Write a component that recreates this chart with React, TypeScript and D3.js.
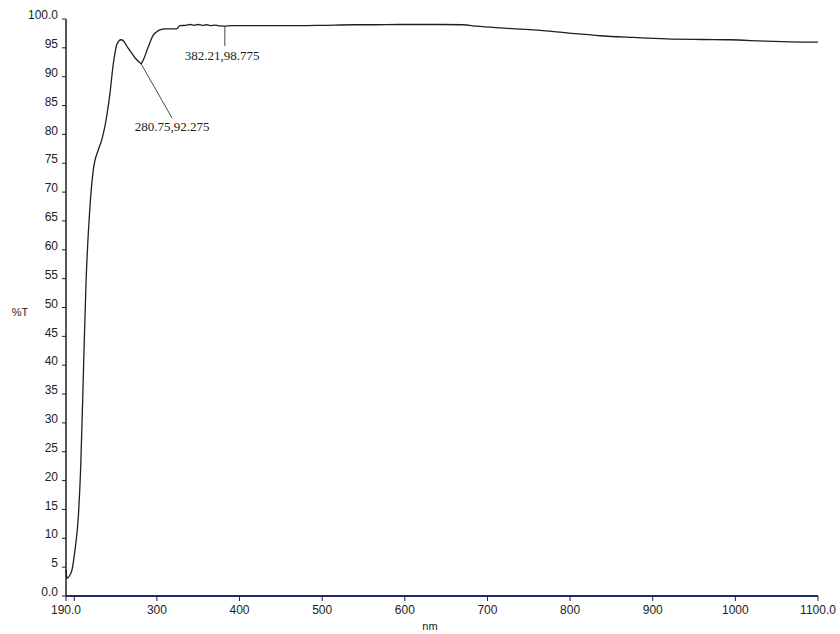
import React from "react";
import * as d3 from "d3";

const wavelengths = [190, 190.8, 191.6, 193, 196.9, 200.9, 204.9, 207.8, 210.2, 211.8, 214.2, 217, 219, 223, 229, 233.2, 239.2, 243.2, 247.2, 251.3, 254, 256.6, 259, 261.4, 265, 269.5, 274, 279.5, 280.75, 283.5, 289.6, 295.6, 300, 303.7, 310, 318, 324, 328, 335, 340, 345, 350, 355, 360, 365, 370, 375, 382.21, 390, 400, 430, 473, 500, 540, 560, 594, 630, 670, 687, 715, 755, 796, 836, 876, 917, 960, 993, 1038, 1082, 1100];
const transmittance = [4.5, 3.3, 3.1, 3.3, 4.3, 8.0, 13.7, 22.4, 34, 42.6, 54.2, 62.9, 67.5, 73.8, 77.3, 79, 83.1, 87.1, 92.2, 95.5, 96.2, 96.4, 96.3, 95.8, 95.0, 94.1, 93.2, 92.4, 92.275, 92.9, 95.2, 97.2, 97.8, 98.1, 98.3, 98.3, 98.3, 98.85, 98.9, 99.05, 98.9, 99.05, 98.9, 99.0, 98.85, 98.95, 98.8, 98.775, 98.85, 98.85, 98.85, 98.85, 98.9, 99.0, 99.0, 99.05, 99.05, 99.0, 98.75, 98.45, 98.1, 97.6, 97.1, 96.8, 96.55, 96.45, 96.4, 96.15, 96.0, 96.0];

const xTickValues = [190, 200, 300, 400, 500, 600, 700, 800, 900, 1000, 1100];
const xTickLabels = ["190.0", "", "300", "400", "500", "600", "700", "800", "900", "1000", "1100.0"];
const yTickValues = [0, 5, 10, 15, 20, 25, 30, 35, 40, 45, 50, 55, 60, 65, 70, 75, 80, 85, 90, 95, 100];
const yTickLabels = ["0.0", "5", "10", "15", "20", "25", "30", "35", "40", "45", "50", "55", "60", "65", "70", "75", "80", "85", "90", "95", "100.0"];

const annotations = [
  { nm: 280.75, t: 92.275, label: "280.75,92.275" },
  { nm: 382.21, t: 98.775, label: "382.21,98.775" },
];

const W = 840;
const H = 634;

export default function App() {
  const x = d3.scaleLinear().domain([190, 1100]).range([66, 818]);
  const y = d3.scaleLinear().domain([0, 100]).range([596, 19]);

  const pts = wavelengths.map((w, i) => [w, transmittance[i]] as [number, number]);
  const line = d3
    .line<[number, number]>()
    .x((d) => x(d[0]))
    .y((d) => y(d[1]))
    .curve(d3.curveMonotoneX);

  const sans = "Liberation Sans, Arial, sans-serif";
  const serif = "Liberation Serif, Times New Roman, serif";

  const a1 = annotations[0];
  const a2 = annotations[1];

  return (
    <svg
      width={W}
      height={H}
      style={{ position: "absolute", left: 0, top: 0, background: "#fff" }}
    >
      <line x1={66} x2={66} y1={y(100)} y2={y(0)} stroke="#2a1c22" strokeWidth={1.5} />
      <line x1={66} x2={818} y1={y(0)} y2={y(0)} stroke="#1f2a7a" strokeWidth={1.8} />

      {yTickValues.map((v, i) => (
        <g key={"y" + v}>
          <line x1={62} x2={66} y1={y(v)} y2={y(v)} stroke="#2a1c22" strokeWidth={1} />
          <text
            x={58}
            y={y(v) - 3}
            textAnchor="end"
            dominantBaseline="middle"
            fontFamily={sans}
            fontSize={12}
            fill="#222"
          >
            {yTickLabels[i]}
          </text>
        </g>
      ))}

      {xTickValues.map((v, i) => (
        <g key={"x" + v}>
          <line x1={x(v)} x2={x(v)} y1={y(0)} y2={y(0) + 5} stroke="#222" strokeWidth={1} />
          <text
            x={x(v)}
            y={y(0) + 15}
            textAnchor="middle"
            dominantBaseline="middle"
            fontFamily={sans}
            fontSize={12}
            fill="#222"
          >
            {xTickLabels[i]}
          </text>
        </g>
      ))}

      <text x={20} y={313} textAnchor="middle" dominantBaseline="middle" fontFamily={sans} fontSize={11} fill="#222">
        %T
      </text>
      <text x={430} y={627} textAnchor="middle" dominantBaseline="middle" fontFamily={sans} fontSize={11} fill="#222">
        nm
      </text>

      <path d={line(pts) || ""} fill="none" stroke="#1e1e1e" strokeWidth={1.3} />

      <line x1={x(a1.nm)} y1={y(a1.t)} x2={172} y2={118} stroke="#333" strokeWidth={0.9} />
      <text x={172} y={128} textAnchor="middle" dominantBaseline="middle" fontFamily={serif} fontSize={13} fill="#222">
        {a1.label}
      </text>
      <line x1={x(a2.nm)} y1={y(a2.t)} x2={x(a2.nm)} y2={46} stroke="#333" strokeWidth={0.9} />
      <text x={222} y={57} textAnchor="middle" dominantBaseline="middle" fontFamily={serif} fontSize={13} fill="#222">
        {a2.label}
      </text>
    </svg>
  );
}
